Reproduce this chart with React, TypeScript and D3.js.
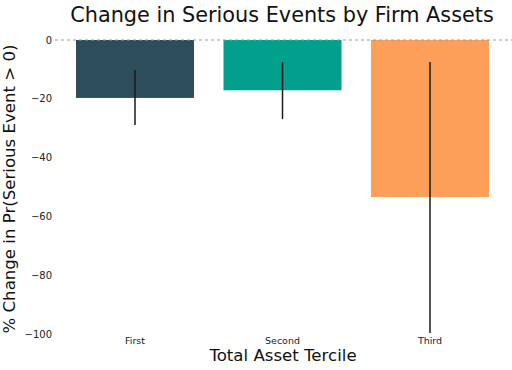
import React from 'react';
import * as d3 from 'd3';

const terciles = ['First', 'Second', 'Third'];
const changes = [-19.7, -17.1, -53.4];
const errLow = [-28.9, -26.9, -99.7];
const errHigh = [-10.2, -7.5, -7.5];
const barColors = ['#2d4d5a', '#00a08c', '#fd9f59'];
const yTicks = [0, -20, -40, -60, -80, -100];

const W = 512;
const H = 370;

export default function App() {
  const x = d3.scaleBand<string>()
    .domain(terciles)
    .range([61.25, 503.75])
    .paddingInner(0.2)
    .paddingOuter(0.1);

  // 0 sits at y=40, -100 at y=334
  const y = d3.scaleLinear().domain([0, -100]).range([40, 334]);

  const font = 'DejaVu Sans, sans-serif';

  return (
    <svg width={W} height={H} style={{ position: 'absolute', left: 0, top: 0 }} fontFamily={font}>
      <rect width={W} height={H} fill="#fff" />
      <text x={282} y={22} textAnchor="middle" fontSize={20.8} fill="#111">
        Change in Serious Events by Firm Assets
      </text>

      {terciles.map((t, i) => {
        const v = changes[i];
        const cx = x(t)! + x.bandwidth() / 2;
        return (
          <g key={t}>
            <rect
              x={x(t)}
              y={y(0)}
              width={x.bandwidth()}
              height={y(v) - y(0)}
              fill={barColors[i]}
            />
            <line x1={cx} x2={cx} y1={y(errHigh[i])} y2={y(errLow[i])} stroke="#1a1a1a" strokeWidth={1.5} />
            <text x={cx} y={343.5} textAnchor="middle" fontSize={9.5} fill="#222">{t}</text>
          </g>
        );
      })}

      <line x1={55} x2={512} y1={y(0)} y2={y(0)} stroke="#999" strokeWidth={1} strokeDasharray="3,3" />

      {yTicks.map(t => (
        <text key={t} x={52} y={y(t)} dy="0.35em" textAnchor="end" fontSize={10} fill="#222">
          {t < 0 ? `\u2212${Math.abs(t)}` : t}
        </text>
      ))}

      <text
        transform={`translate(15, 189) rotate(-90)`}
        textAnchor="middle"
        fontSize={16.6}
        fill="#111"
      >
        % Change in Pr(Serious Event &gt; 0)
      </text>
      <text x={283} y={361} textAnchor="middle" fontSize={16.6} fill="#111">
        Total Asset Tercile
      </text>
    </svg>
  );
}
